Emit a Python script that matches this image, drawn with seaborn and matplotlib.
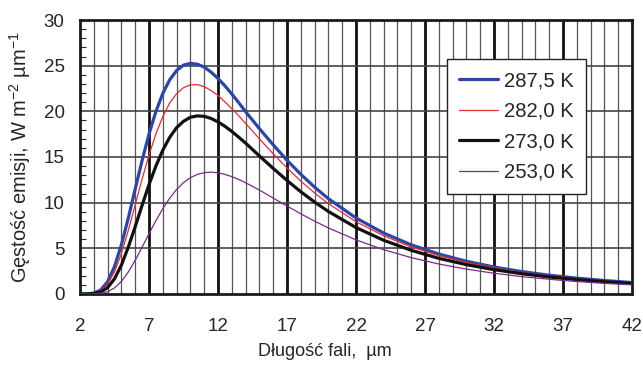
#!/usr/bin/env python3
"""Spectral emission density of a black body at four temperatures."""

import numpy as np
import pandas as pd
import matplotlib
matplotlib.use('Agg')
import matplotlib.pyplot as plt
import seaborn as sns

# wavelength, um
WAVELENGTH = [2, 2.5, 3, 3.5, 4, 4.5, 5, 5.5, 6, 6.5, 7, 7.5, 8, 8.5, 9, 9.5, 10,
              10.5, 11, 11.5, 12, 12.5, 13, 13.5, 14, 15, 16, 17, 18, 19, 20,
              22, 24, 26, 28, 30, 32, 34, 36, 38, 40, 42]

# emission density, W m-2 um-1
T_287_5 = [0.0, 0.01, 0.09, 0.44, 1.35, 3.00, 5.38, 8.31, 11.49, 14.62, 17.5, 19.98,
           21.96, 23.45, 24.47, 25.06, 25.25, 25.16, 24.84, 24.29, 23.6, 22.79, 21.9,
           20.95, 19.96, 18.1, 16.33, 14.64, 13.1, 11.69, 10.43,
           8.32, 6.67, 5.38, 4.37, 3.58, 2.95, 2.45, 2.05, 1.73, 1.47, 1.25]
T_282_0 = [0.0, 0.01, 0.06, 0.33, 1.05, 2.42, 4.43, 6.96, 9.75, 12.59, 15.2, 17.53,
           19.42, 20.92, 21.93, 22.59, 22.9, 22.92, 22.7, 22.28, 21.73, 21.04, 20.3,
           19.51, 18.68, 16.99, 15.34, 13.8, 12.35, 11.06, 9.89,
           7.92, 6.37, 5.15, 4.20, 3.44, 2.84, 2.36, 1.98, 1.67, 1.42, 1.21]
T_273_0 = [0.0, 0.0, 0.04, 0.21, 0.69, 1.66, 3.16, 5.13, 7.37, 9.71, 11.97, 14.01,
           15.75, 17.15, 18.21, 18.91, 19.35, 19.50, 19.45, 19.22, 18.84, 18.36, 17.8,
           17.17, 16.52, 15.11, 13.75, 12.43, 11.19, 10.06, 9.03,
           7.27, 5.88, 4.78, 3.90, 3.21, 2.66, 2.22, 1.86, 1.57, 1.34, 1.14]
T_253_0 = [0.0, 0.0, 0.01, 0.06, 0.24, 0.66, 1.38, 2.40, 3.68, 5.12, 6.60, 8.03,
           9.34, 10.49, 11.44, 12.19, 12.73, 13.09, 13.28, 13.34, 13.27, 13.09, 12.85,
           12.54, 12.18, 11.38, 10.5, 9.63, 8.78, 7.97, 7.23,
           5.92, 4.85, 3.98, 3.28, 2.72, 2.27, 1.90, 1.61, 1.36, 1.16, 1.00]

LABELS = ['287,5 K', '282,0 K', '273,0 K', '253,0 K']
COLORS = ['#2a46a8', '#ee2a2a', '#111111', '#7a2a8a']
WIDTHS = [2.3, 0.9, 2.3, 0.9]

X_TICKS = [2, 7, 12, 17, 22, 27, 32, 37, 42]
Y_TICKS = [0, 5, 10, 15, 20, 25, 30]

sns.set_style('white')
plt.rcParams['font.family'] = ['Liberation Sans', 'DejaVu Sans']
plt.rcParams['mathtext.default'] = 'regular'

frames = []
for label, vals in zip(LABELS, [T_287_5, T_282_0, T_273_0, T_253_0]):
    frames.append(pd.DataFrame({'wl': WAVELENGTH, 'm': vals, 'series': label}))
df = pd.concat(frames, ignore_index=True)

fig = plt.figure(figsize=(6.43, 3.67), dpi=100)
ax = fig.add_axes([0.1244, 0.199, 0.8586, 0.7465])

# grid: thin line every 1 um, thick every 5 um
for x in range(3, 42):
    if (x - 2) % 5 == 0:
        ax.axvline(x, color='#111111', lw=2.0, zorder=1)
    else:
        ax.axvline(x, color='#555555', lw=0.9, zorder=1)
for y in Y_TICKS[1:-1]:
    ax.axhline(y, color='#444444', lw=1.2, zorder=1)

for label, col, lw in zip(LABELS, COLORS, WIDTHS):
    sns.lineplot(data=df[df['series'] == label], x='wl', y='m', color=col,
                 linewidth=lw, label=label, ax=ax, zorder=3)

ax.set_xlim(2, 42)
ax.set_ylim(0, 30)
ax.set_xticks(X_TICKS)
ax.set_yticks(Y_TICKS)
ax.set_yticks(np.arange(0, 31, 1), minor=True)
ax.tick_params(axis='both', which='major', labelsize=13.5, length=0)
ax.tick_params(axis='x', which='major', pad=17)
ax.tick_params(axis='y', which='major', pad=11)
ax.tick_params(axis='y', which='minor', direction='in', length=4, width=0.8, left=True)
ax.tick_params(axis='x', which='minor', length=0)

for s in ax.spines.values():
    s.set_color('#1a1a1a')
    s.set_linewidth(2.0)

ax.set_xlabel('Długość fali,  µm', fontsize=13)
ax.xaxis.set_label_coords(0.443, -0.18)
ax.set_ylabel('Gęstość emisji, W m$^{-2}$ µm$^{-1}$', fontsize=14.5)
ax.yaxis.set_label_coords(-0.085, 0.5)

leg = ax.legend(loc='upper left', bbox_to_anchor=(0.665, 0.858), borderaxespad=0,
                fontsize=14.6, frameon=True, fancybox=False, framealpha=1,
                edgecolor='#222222', handlelength=1.9, labelspacing=0.57,
                borderpad=0.6, handletextpad=0.3)
leg.get_frame().set_linewidth(1.0)
leg.set_zorder(5)

fig.savefig('out.png', dpi=100)
plt.close(fig)
